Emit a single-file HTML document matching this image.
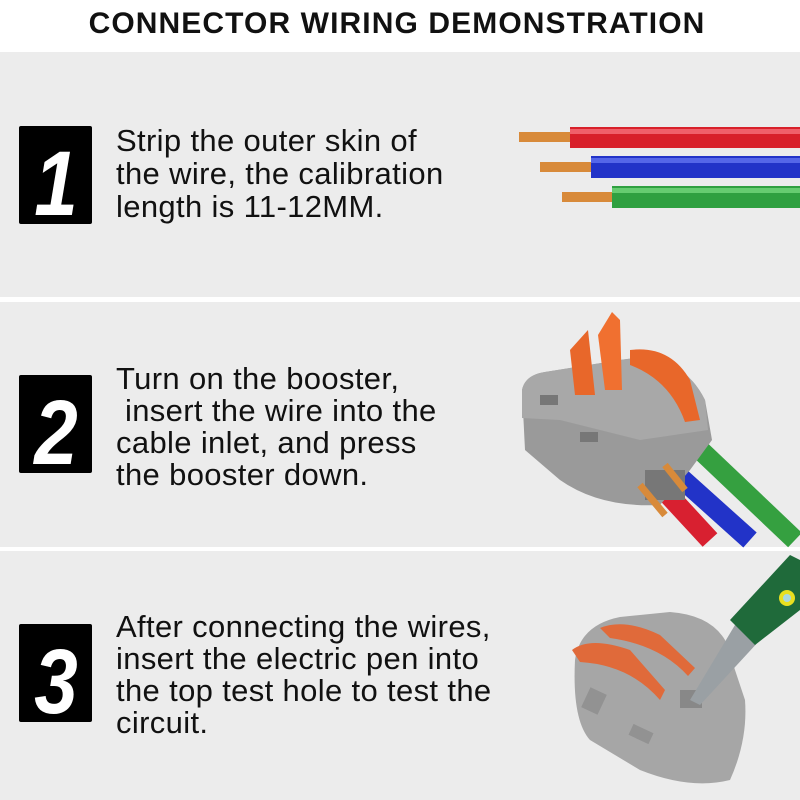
<!DOCTYPE html>
<html><head><meta charset="utf-8"><style>
html,body{margin:0;padding:0;background:#fff}
svg{display:block}
text{font-family:"Liberation Sans",sans-serif}
</style></head><body>
<svg width="800" height="800" viewBox="0 0 800 800" xmlns="http://www.w3.org/2000/svg">
<rect width="800" height="800" fill="#fff"/>
<text x="397" y="33" font-size="30" font-weight="bold" text-anchor="middle" fill="#111" letter-spacing="1.1">CONNECTOR WIRING DEMONSTRATION</text>
<rect x="0" y="52" width="800" height="245" fill="#ececec"/>
<rect x="0" y="302" width="800" height="245" fill="#ececec"/>
<rect x="0" y="551" width="800" height="249" fill="#ececec"/>

<!-- number boxes -->
<rect x="19" y="126" width="73" height="98" rx="2" fill="#000"/>
<text x="56" y="215" font-size="92" font-weight="bold" font-style="italic" text-anchor="middle" fill="#fff" transform="translate(56 0) scale(0.85 1) translate(-56 0)">1</text>
<rect x="19" y="375" width="73" height="98" rx="2" fill="#000"/>
<text x="56" y="464" font-size="92" font-weight="bold" font-style="italic" text-anchor="middle" fill="#fff" transform="translate(56 0) scale(0.85 1) translate(-56 0)">2</text>
<rect x="19" y="624" width="73" height="98" rx="2" fill="#000"/>
<text x="56" y="713" font-size="92" font-weight="bold" font-style="italic" text-anchor="middle" fill="#fff" transform="translate(56 0) scale(0.85 1) translate(-56 0)">3</text>

<g font-size="31" fill="#111" letter-spacing="0.35">
<text x="116" y="151">Strip the outer skin of</text>
<text x="116" y="184">the wire, the calibration</text>
<text x="116" y="217">length is 11-12MM.</text>
<text x="116" y="389">Turn on the booster,</text>
<text x="116" y="421" xml:space="preserve"> insert the wire into the</text>
<text x="116" y="453">cable inlet, and press</text>
<text x="116" y="485">the booster down.</text>
<text x="116" y="637">After connecting the wires,</text>
<text x="116" y="669">insert the electric pen into</text>
<text x="116" y="701">the top test hole to test the</text>
<text x="116" y="733">circuit.</text>
</g>

<!-- wires panel 1 -->
<rect x="519" y="132" width="55" height="10" fill="#d88a3a"/>
<rect x="570" y="127" width="230" height="21" fill="#d8202a"/>
<rect x="570" y="129" width="230" height="5" fill="#f0606a"/>
<rect x="540" y="162" width="55" height="10" fill="#d88a3a"/>
<rect x="591" y="156" width="209" height="22" fill="#2233c8"/>
<rect x="591" y="158" width="209" height="5" fill="#5566e8"/>
<rect x="562" y="192" width="55" height="10" fill="#d88a3a"/>
<rect x="612" y="186" width="188" height="22" fill="#2fa040"/>
<rect x="612" y="188" width="188" height="5" fill="#66cc70"/>

<!-- connector panel 2 -->
<g>
<line x1="650" y1="475" x2="710" y2="540" stroke="#d82030" stroke-width="20"/>
<line x1="672" y1="470" x2="750" y2="540" stroke="#2233c8" stroke-width="20"/>
<line x1="695" y1="445" x2="795" y2="540" stroke="#35a040" stroke-width="20"/>
<path d="M522 390 Q525 375 545 372 L620 360 Q680 350 705 400 L712 440 L690 470 L660 505 Q600 508 560 480 L525 450 Z" fill="#9a9a9a"/>
<path d="M522 390 Q525 375 545 372 L620 360 Q680 350 705 400 L708 430 L640 440 L560 420 L522 418 Z" fill="#a8a8a8"/>
<rect x="540" y="395" width="18" height="10" fill="#777"/>
<rect x="580" y="432" width="18" height="10" fill="#777"/>
<rect x="645" y="470" width="40" height="30" fill="#777"/>
<path d="M570 350 L588 330 L595 395 L575 395 Z" fill="#e8672a"/>
<path d="M598 335 L612 312 L620 320 L622 390 L605 390 Z" fill="#f07030"/>
<path d="M630 350 Q670 345 690 380 L700 420 L685 422 Q670 380 630 365 Z" fill="#e8672a"/>
<line x1="640" y1="485" x2="665" y2="515" stroke="#d88a3a" stroke-width="7"/>
<line x1="665" y1="465" x2="685" y2="490" stroke="#d88a3a" stroke-width="7"/>
</g>

<!-- connector panel 3 -->
<g>
<path d="M575 660 Q580 625 620 617 L670 612 Q710 615 725 640 L745 700 Q748 740 730 780 Q690 790 640 770 L590 740 Q572 720 575 660 Z" fill="#a6a6a6"/>
<path d="M572 650 Q590 636 630 650 L665 690 L660 700 Q630 665 580 662 Z" fill="#e06a3a"/>
<path d="M600 628 Q625 618 660 635 L695 668 L688 676 Q660 645 610 638 Z" fill="#e06a3a"/>
<rect x="680" y="690" width="22" height="18" fill="#888"/>
<rect x="585" y="690" width="18" height="22" fill="#929292" transform="rotate(25 594 701)"/>
<rect x="630" y="728" width="22" height="12" fill="#929292" transform="rotate(25 641 734)"/>
<path d="M690 700 L735 625 L760 640 L700 705 Z" fill="#9aa0a4"/>
<path d="M730 620 L790 555 L800 560 L800 610 L755 645 Z" fill="#1f6a3a"/>
<circle cx="787" cy="598" r="8" fill="#e8e020"/>
<circle cx="787" cy="598" r="4" fill="#a8d8e0"/>
</g>
</svg>
</body></html>
